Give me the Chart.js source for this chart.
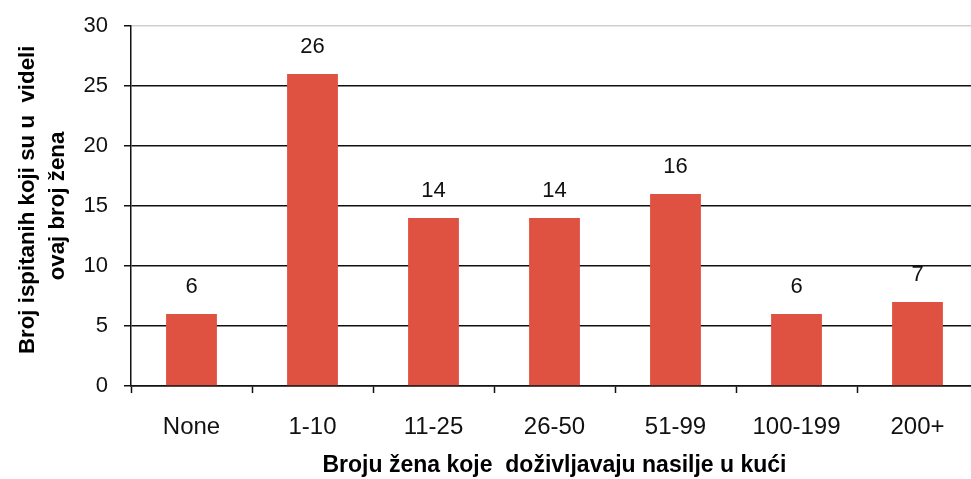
<!DOCTYPE html>
<html>
<head>
<meta charset="utf-8">
<script src="https://cdn.jsdelivr.net/npm/chart.js@4.4.0/dist/chart.umd.min.js"></script>
<style>
  html, body { margin: 0; padding: 0; background: #fff; overflow: hidden; }
  #wrap { width: 978px; height: 479px; }
</style>
</head>
<body>
<div id="wrap"><canvas id="barChart"></canvas></div>
<script>
const categories = ["None", "1-10", "11-25", "26-50", "51-99", "100-199", "200+"];
const counts = [6, 26, 14, 14, 16, 6, 7];
const yTicks = [0, 5, 10, 15, 20, 25, 30];

const yTitle = ["  Broj ispitanih koji su u  videli", "ovaj broj žena"];
const xTitle = "Broju žena koje  doživljavaju nasilje u kući";

// value labels above bars
const valueLabels = {
    id: 'valueLabels',
    afterDatasetsDraw(chart) {
        const ctx = chart.ctx;
        const meta = chart.getDatasetMeta(0);
        ctx.save();
        ctx.font = "22px 'Liberation Sans', Arial, sans-serif";
        ctx.fillStyle = '#111';
        ctx.textAlign = 'center';
        ctx.textBaseline = 'middle';
        meta.data.forEach((bar, i) => {
            ctx.fillText(String(counts[i]), bar.x, bar.y - 27);
        });
        ctx.restore();
    }
};

Chart.defaults.font.family = "'Liberation Sans', Arial, sans-serif";
Chart.defaults.color = '#111';

new Chart(document.getElementById('barChart'), {
    type: 'bar',
    data: {
        labels: categories,
        datasets: [{
            data: counts,
            backgroundColor: '#DF5140',
            borderWidth: 0,
            barPercentage: 0.42,
            categoryPercentage: 1.0
        }]
    },
    options: {
        responsive: true,
        maintainAspectRatio: false,
        animation: false,
        layout: { padding: { top: 26, right: 0, bottom: 0, left: 0 } },
        plugins: {
            legend: { display: false },
            tooltip: { enabled: false }
        },
        scales: {
            x: {
                offset: true,
                grid: {
                    offset: true,
                    drawOnChartArea: false,
                    tickLength: 7,
                    tickColor: '#111',
                    tickWidth: 1.5
                },
                border: { color: '#111', width: 1.5 },
                ticks: { padding: 20, font: { size: 24 }, color: '#111' },
                title: {
                    display: true,
                    text: xTitle,
                    font: { size: 23, weight: 'bold' },
                    color: '#000',
                    padding: 0
                },
                afterFit(scale) { scale.height = 93; }
            },
            y: {
                min: 0,
                max: 30,
                afterBuildTicks(scale) { scale.ticks = yTicks.map(v => ({ value: v })); },
                grid: {
                    color: ctx => (ctx.tick && ctx.tick.value === 30) ? '#cfcfcf' : '#111',
                    lineWidth: 1.5,
                    tickLength: 7,
                    tickColor: '#111',
                    tickWidth: 1.5
                },
                border: { color: '#111', width: 1.5 },
                ticks: { padding: 16, font: { size: 22 }, color: '#111' },
                title: {
                    display: true,
                    text: yTitle,
                    font: { size: 22.3, weight: 'bold', lineHeight: 30 / 22.3 },
                    color: '#000',
                    padding: { top: 13, bottom: 0 }
                },
                afterFit(scale) {
                    scale.width = 131;
                    scale.paddingTop = 0;
                    scale.paddingBottom = 0;
                }
            }
        }
    },
    plugins: [valueLabels]
});
</script>
</body>
</html>
